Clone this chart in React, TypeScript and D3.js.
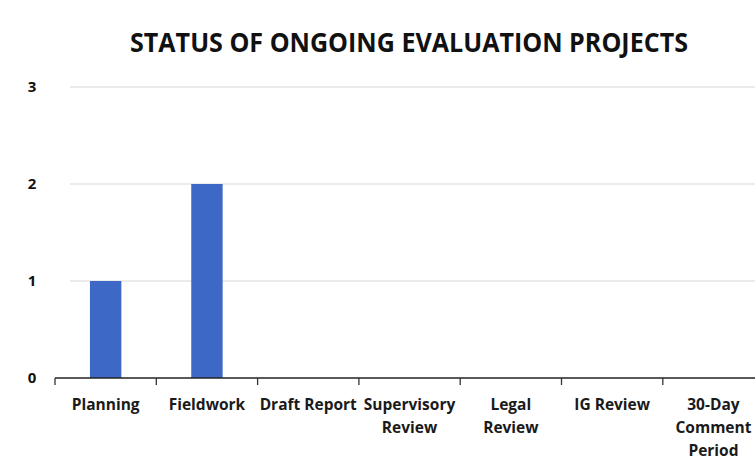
import React from "react";
import * as d3 from "d3";

const title = "STATUS OF ONGOING EVALUATION PROJECTS";
const categories = ["Planning", "Fieldwork", "Draft Report", "Supervisory Review", "Legal Review", "IG Review", "30-Day Comment Period"];
const categoryLines = [["Planning"], ["Fieldwork"], ["Draft Report"], ["Supervisory", "Review"], ["Legal", "Review"], ["IG Review"], ["30-Day", "Comment", "Period"]];
const values = [1, 2, 0, 0, 0, 0, 0];
const yTicks = [0, 1, 2, 3];

const W = 755;
const H = 474;
const FONT = "'Open Sans', 'DejaVu Sans', sans-serif";

export default function App() {
  const x = d3.scaleBand<string>().domain(categories).range([55, 55 + 7 * 101.3]).paddingInner(0.69).paddingOuter(0.345);
  const xTick = d3.scaleBand<string>().domain(categories).range([55, 55 + 7 * 101.3]).padding(0);
  const y = d3.scaleLinear().domain([0, 3]).range([378, 87]);

  return (
    <svg width={W} height={H} style={{ position: "absolute", left: 0, top: 0, background: "#fff" }} fontFamily={FONT}>
      <rect x={0} y={0} width={W} height={H} fill="#fff" />
      <text x={409} y={52} textAnchor="middle" fontSize={26} fontWeight={700} fill="#111" textLength={558} lengthAdjust="spacingAndGlyphs">
        {title}
      </text>
      {yTicks.filter((t) => t > 0).map((t) => (
        <line key={t} x1={70} x2={W} y1={y(t)} y2={y(t)} stroke="#e4e4e4" strokeWidth={1.5} />
      ))}
      {yTicks.map((t) => (
        <text key={t} x={32} y={y(t) + 5} textAnchor="middle" fontSize={15} fontWeight={700} fill="#111">
          {t}
        </text>
      ))}
      {categories.map((c, i) => (
        <rect key={c} x={x(c)} y={y(values[i])} width={x.bandwidth()} height={y(0) - y(values[i])} fill="#3d68c6" />
      ))}
      <line x1={55} x2={W} y1={y(0)} y2={y(0)} stroke="#222" strokeWidth={1.6} />
      {categories.map((c) => (
        <line key={c} x1={xTick(c)} x2={xTick(c)} y1={y(0)} y2={y(0) + 7} stroke="#333" strokeWidth={1.3} />
      ))}
      {categories.map((c, i) => (
        <text key={c} textAnchor="middle" fontSize={15.5} fontWeight={700} fill="#1a1a1a">
          {categoryLines[i].map((l, j) => (
            <tspan key={j} x={(xTick(c) as number) + xTick.bandwidth() / 2} y={410 + j * 23}>
              {l}
            </tspan>
          ))}
        </text>
      ))}
    </svg>
  );
}
